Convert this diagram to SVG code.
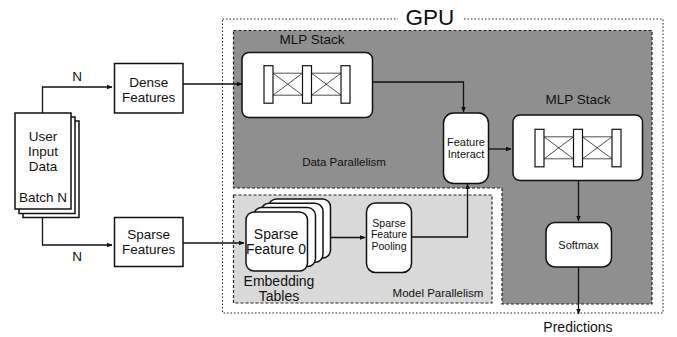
<svg xmlns="http://www.w3.org/2000/svg" width="677" height="337" viewBox="0 0 677 337">
<style>
text{font-family:"Liberation Sans",Arial,sans-serif;fill:#111;text-anchor:middle;dominant-baseline:central}
.box{fill:#fff;stroke:#111;stroke-width:1.5}
.ln{fill:none;stroke:#111;stroke-width:1.3}
.thin{fill:none;stroke:#222;stroke-width:0.8}
.bar{fill:#fff;stroke:#111;stroke-width:1.2}
.t13{font-size:13.5px}
</style>
<defs>
<marker id="ah" viewBox="0 0 10 10" refX="9" refY="5" markerWidth="6" markerHeight="6" orient="auto" markerUnits="userSpaceOnUse"><path d="M0,1 L10,5 L0,9 z" fill="#111"/></marker>
<g id="mlp">
<rect class="bar" x="0" y="0" width="9" height="37.5"/>
<rect class="bar" x="38.5" y="0" width="9" height="37.5"/>
<rect class="bar" x="77" y="0" width="9" height="37.5"/>
<path class="thin" d="M9,7.5 H38.5 M9,29.5 H38.5 M9,7.5 L38.5,29.5 M9,29.5 L38.5,7.5 M47.5,7.5 H77 M47.5,29.5 H77 M47.5,7.5 L77,29.5 M47.5,29.5 L77,7.5"/>
</g>
</defs>
<rect width="677" height="337" fill="#fff"/>
<g id="gpu">
<rect x="222.5" y="19" width="440.5" height="294" fill="none" stroke="#222" stroke-width="1" stroke-dasharray="1.5,2"/>
<rect x="398" y="8" width="64" height="20" fill="#fff"/>
<text x="430" y="17" style="font-size:22.5px">GPU</text>
</g>
<g id="data-parallelism">
<path d="M233.5,30.5 H652 V304 H502 V188 H233.5 Z" fill="#8f8f8f" stroke="#222" stroke-width="1.2" stroke-dasharray="3,2"/>
<text x="344" y="161.5" style="font-size:11.5px">Data Parallelism</text>
</g>
<g id="model-parallelism">
<rect x="233.5" y="195" width="258.5" height="108" fill="#d9d9d9" stroke="#222" stroke-width="1.2" stroke-dasharray="3,2"/>
<text x="438" y="293" style="font-size:11.5px">Model Parallelism</text>
</g>
<g id="connectors">
<path class="ln" d="M42.5,113 V87 H112" marker-end="url(#ah)"/>
<path class="ln" d="M42.5,218 V245 H112" marker-end="url(#ah)"/>
<path class="ln" d="M183,84 H242" marker-end="url(#ah)"/>
<path class="ln" d="M183,243 H244" marker-end="url(#ah)"/>
<path class="ln" d="M372.5,82 H463.5 V112" marker-end="url(#ah)"/>
<path class="ln" d="M488.5,149 H511" marker-end="url(#ah)"/>
<path class="ln" d="M318,237.5 H365" marker-end="url(#ah)"/>
<path class="ln" d="M411.5,237 H467.5 V184" marker-end="url(#ah)"/>
<path class="ln" d="M578.5,181 V221" marker-end="url(#ah)"/>
<path class="ln" d="M578.5,267 V314" marker-end="url(#ah)"/>
<text x="77" y="76" class="t13">N</text>
<text x="77" y="256" class="t13">N</text>
</g>
<g id="user-input">
<rect class="box" x="23" y="121" width="56" height="96.5" stroke-width="1.2"/>
<rect class="box" x="19" y="117" width="56" height="96.5" stroke-width="1.2"/>
<rect class="box" x="15" y="113" width="56" height="96" stroke-width="1.5"/>
<text x="43" y="136" class="t13">User</text>
<text x="43" y="151" class="t13">Input</text>
<text x="43" y="166" class="t13">Data</text>
<text x="43" y="197" class="t13">Batch N</text>
</g>
<g id="dense-features">
<rect class="box" x="114.5" y="63.5" width="68.5" height="49.5"/>
<text x="148.7" y="82" class="t13">Dense</text>
<text x="148.7" y="97" class="t13">Features</text>
</g>
<g id="sparse-features">
<rect class="box" x="114.5" y="217.5" width="68.5" height="49"/>
<text x="148.7" y="234" class="t13">Sparse</text>
<text x="148.7" y="249" class="t13">Features</text>
</g>
<g id="mlp-stack-1">
<text x="312" y="39" class="t13">MLP Stack</text>
<rect class="box" x="242" y="52.5" width="130.5" height="65" rx="7"/>
<use href="#mlp" x="264" y="65.7"/>
</g>
<g id="feature-interact">
<rect class="box" x="443.5" y="113" width="45" height="70.5" rx="10"/>
<text x="466" y="141.5" style="font-size:11px">Feature</text>
<text x="466" y="154" style="font-size:11px">Interact</text>
</g>
<g id="mlp-stack-2">
<text x="578" y="99.5" class="t13">MLP Stack</text>
<rect class="box" x="513" y="115" width="129.5" height="65.5" rx="7"/>
<use href="#mlp" x="535" y="129.3"/>
</g>
<g id="softmax">
<rect class="box" x="546" y="222.5" width="65.5" height="44.5" rx="9"/>
<text x="578.5" y="245" style="font-size:11px">Softmax</text>
</g>
<g id="embedding-tables">
<rect class="box" x="268.5" y="199" width="62" height="59" rx="8"/>
<rect class="box" x="261" y="203.3" width="62" height="59" rx="8"/>
<rect class="box" x="253.5" y="207.6" width="62" height="59" rx="8"/>
<rect class="box" x="246" y="212" width="61.5" height="59" rx="8"/>
<text x="276" y="234" style="font-size:14px">Sparse</text>
<text x="276" y="249" style="font-size:14px">Feature 0</text>
<text x="279" y="280.5" style="font-size:14px">Embedding</text>
<text x="279" y="295.5" style="font-size:14px">Tables</text>
</g>
<g id="sparse-feature-pooling">
<rect class="box" x="366.5" y="203" width="45" height="69.5" rx="9"/>
<text x="389" y="222.5" style="font-size:10.5px">Sparse</text>
<text x="389" y="234.3" style="font-size:10.5px">Feature</text>
<text x="389" y="246" style="font-size:10.5px">Pooling</text>
</g>
<g id="predictions">
<text x="578" y="326.5" style="font-size:14px">Predictions</text>
</g>
</svg>
